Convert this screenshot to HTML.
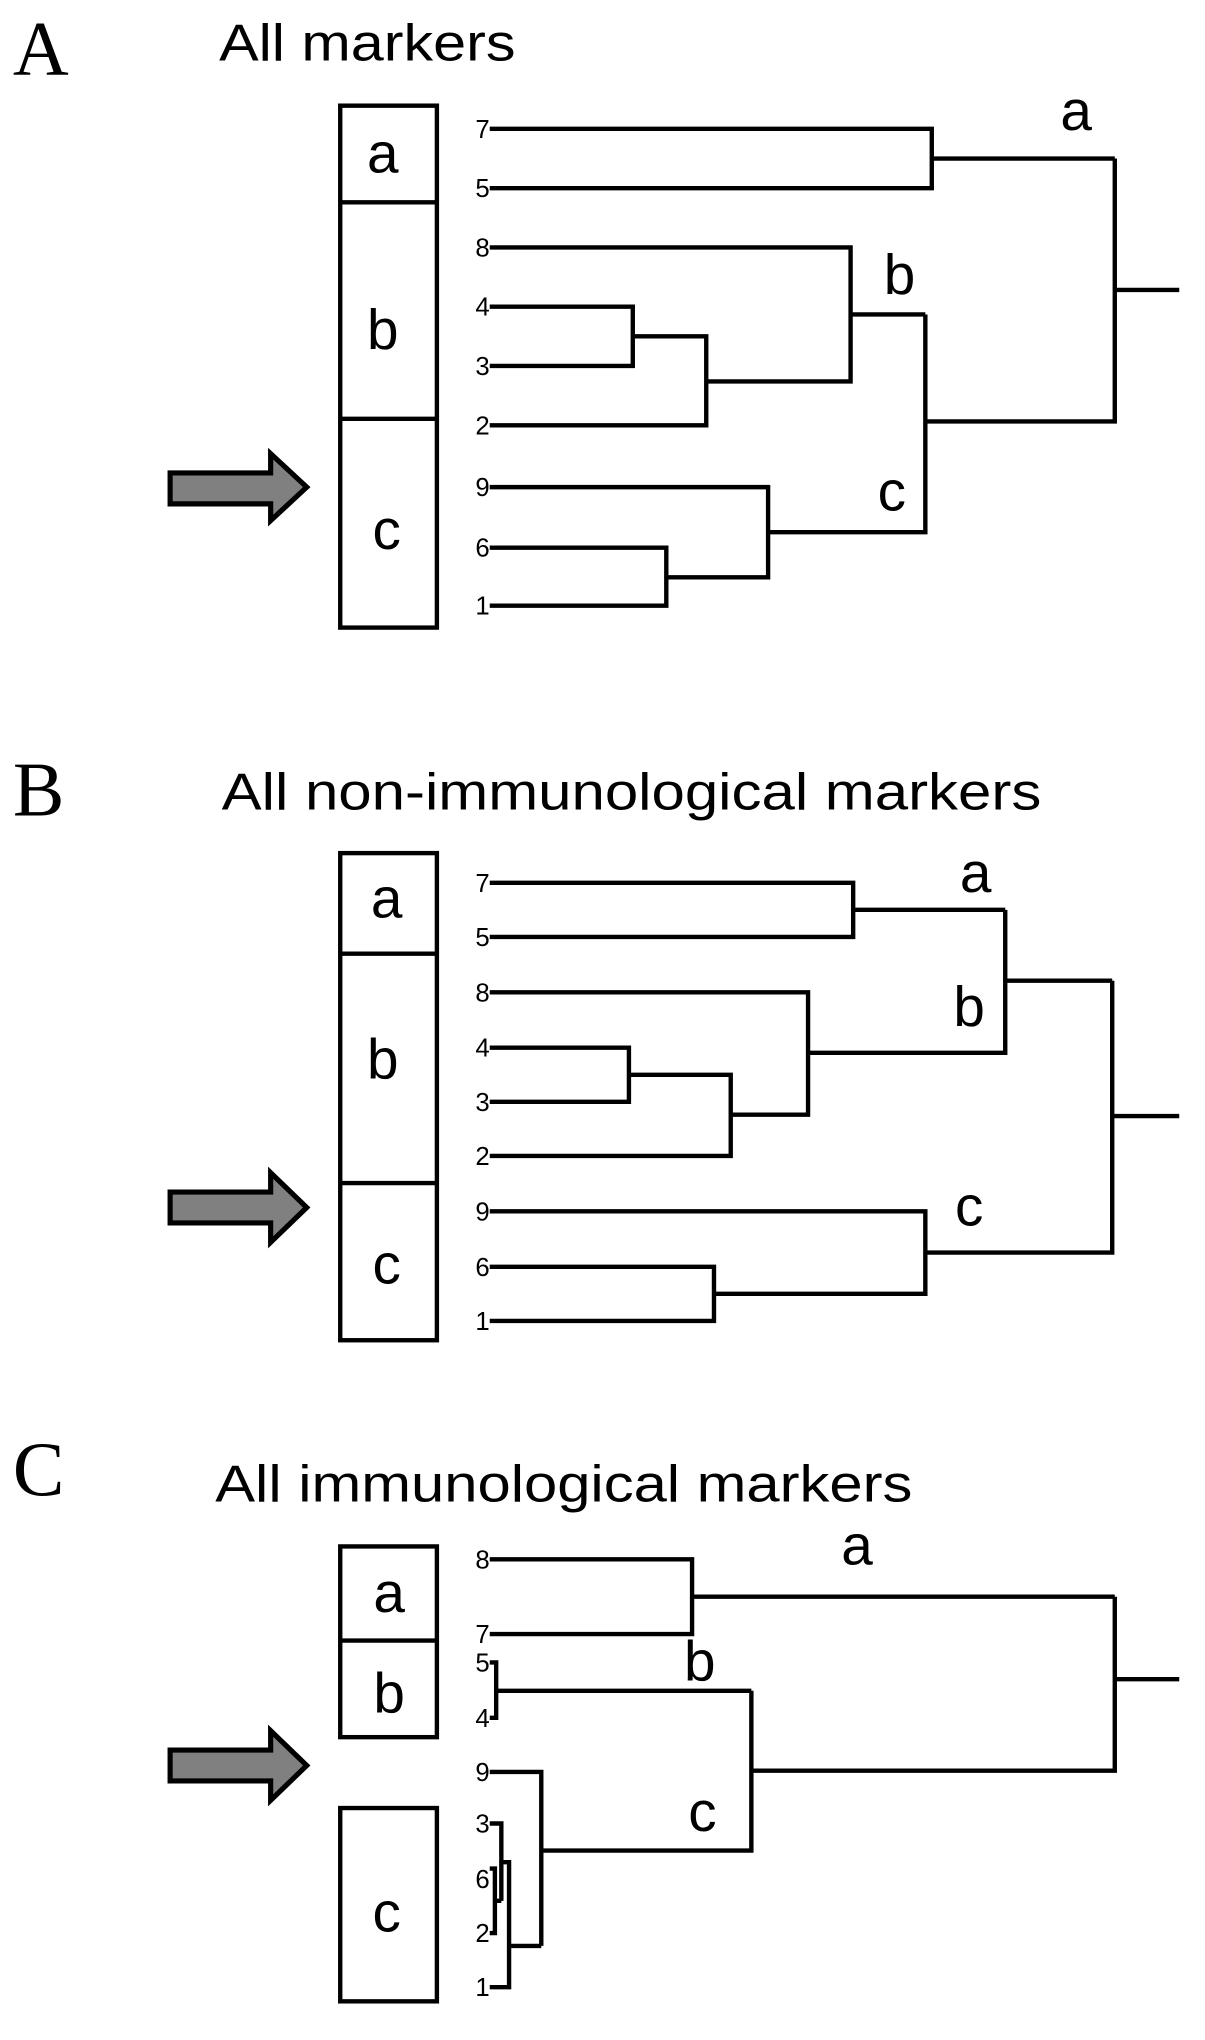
<!DOCTYPE html>
<html><head><meta charset="utf-8"><style>
html,body{margin:0;padding:0;background:#fff;}
svg{display:block;}
.s{font-family:"Liberation Sans",sans-serif;fill:#000;}
.r{font-family:"Liberation Serif",serif;fill:#000;}
</style></head><body>
<svg width="1205" height="2040" viewBox="0 0 935 1583" preserveAspectRatio="none">
<g fill="none" stroke="#000" stroke-width="3.4">
<!-- Panel A -->
<rect x="264" y="82" width="75" height="405"/>
<line x1="264" y1="157" x2="339" y2="157"/><line x1="264" y1="325" x2="339" y2="325"/>
<path d="M380 100H723V146H380M723 123H865"/>
<path d="M380 238H491V284H380M491 261H548V330H380M548 296H660V192H380M660 244H718"/>
<path d="M380 425H517V470H380M517 448H596V378H380M596 413H718V244M718 327H865V123M865 225H915"/>
<!-- Panel B -->
<rect x="264" y="662" width="75" height="378"/>
<line x1="264" y1="740" x2="339" y2="740"/><line x1="264" y1="918" x2="339" y2="918"/>
<path d="M380 685H662V727H380M662 706H780"/>
<path d="M380 813H488V855H380M488 834H567V897H380M567 865H627V770H380M627 817H780V706M780 761H863"/>
<path d="M380 983H554V1025H380M554 1004H718V940H380M718 972H863V761M863 866H915"/>
<!-- Panel C -->
<rect x="264" y="1200" width="75" height="148"/>
<line x1="264" y1="1273" x2="339" y2="1273"/>
<rect x="264" y="1403" width="75" height="150"/>
<path d="M380 1210H537V1268H380M537 1239H865"/>
<path d="M380 1290H385V1333H380M385 1312H583"/>
<path d="M380 1375H420V1510M380 1450H384V1500H380M384 1475H389M380 1415H389V1475M389 1445H395V1542H380M395 1510H420M420 1436H583V1312M583 1374H865V1239M865 1303H915"/>
</g>
<g fill="#808080" stroke="#000" stroke-width="4" stroke-linejoin="miter">
<path d="M132 367H210V352L238 378L210 404V391H132Z"/>
<path d="M132 925H210V910L238 937L210 964V949H132Z"/>
<path d="M132 1358H210V1343L238 1370L210 1397V1382H132Z"/>
</g>
<text class="r" x="10" y="58" font-size="60">A</text>
<text class="s" x="170" y="47" font-size="40" textLength="230" lengthAdjust="spacingAndGlyphs">All markers</text>
<text class="r" x="10" y="633" font-size="60">B</text>
<text class="s" x="172" y="628" font-size="40" textLength="636" lengthAdjust="spacingAndGlyphs">All non-immunological markers</text>
<text class="r" x="10" y="1160" font-size="60">C</text>
<text class="s" x="167" y="1165" font-size="40" textLength="541" lengthAdjust="spacingAndGlyphs">All immunological markers</text>
<g class="s" font-size="44" text-anchor="middle">
<text x="297" y="134">a</text><text x="297" y="271">b</text><text x="300" y="426">c</text>
<text x="300" y="712">a</text><text x="297" y="837">b</text><text x="300" y="996">c</text>
<text x="302" y="1251">a</text><text x="302" y="1329">b</text><text x="300" y="1499">c</text>
<text x="835" y="101">a</text><text x="698" y="228">b</text><text x="692" y="396">c</text>
<text x="757" y="692">a</text><text x="752" y="796">b</text><text x="752" y="951">c</text>
<text x="665" y="1214">a</text><text x="543" y="1304">b</text><text x="545" y="1421">c</text>
</g>
<g class="s" font-size="20" fill="#222" text-anchor="end">
<text x="380" y="107">7</text><text x="380" y="153">5</text><text x="380" y="199">8</text>
<text x="380" y="245">4</text><text x="380" y="291">3</text><text x="380" y="337">2</text>
<text x="380" y="385">9</text><text x="380" y="432">6</text><text x="380" y="477">1</text>
<text x="380" y="692">7</text><text x="380" y="734">5</text><text x="380" y="777">8</text>
<text x="380" y="820">4</text><text x="380" y="862">3</text><text x="380" y="904">2</text>
<text x="380" y="947">9</text><text x="380" y="990">6</text><text x="380" y="1032">1</text>
<text x="380" y="1217">8</text><text x="380" y="1275">7</text><text x="380" y="1297">5</text>
<text x="380" y="1340">4</text><text x="380" y="1382">9</text><text x="380" y="1422">3</text>
<text x="380" y="1465">6</text><text x="380" y="1507">2</text><text x="380" y="1549">1</text>
</g>
</svg>
</body></html>
